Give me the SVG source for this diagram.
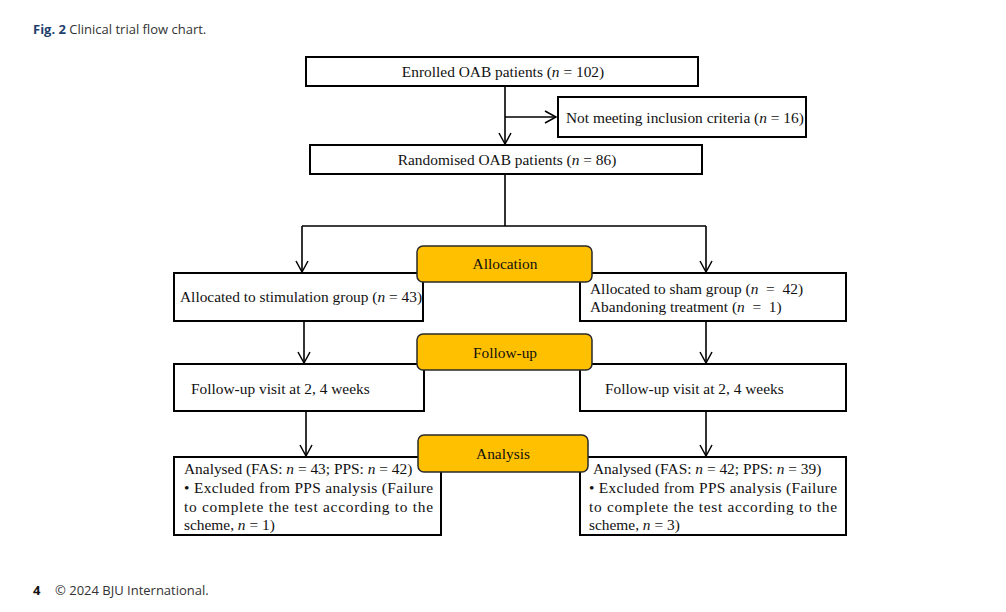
<svg xmlns="http://www.w3.org/2000/svg" width="1006" height="612" viewBox="0 0 1006 612">
<defs>
<marker id="arr" markerWidth="14" markerHeight="14" refX="12" refY="7" orient="auto" markerUnits="userSpaceOnUse">
<path d="M1,1 L12,7 L1,13" fill="none" stroke="#000" stroke-width="1.5"/>
</marker>
<style>
.box{fill:#fff;stroke:#000;stroke-width:2}
.phase{fill:#FFC000;stroke:#2a2a2a;stroke-width:1.5}
.t{font-family:"Liberation Serif","Times New Roman",serif;font-size:15.4px;fill:#111}
.c{text-anchor:middle}
.conn{fill:none;stroke:#000;stroke-width:1.6}
.cap{font-family:"Open Sans","Lato",sans-serif;font-size:13px;fill:#333}
</style>
</defs>
<rect width="1006" height="612" fill="#fff"/>
<text class="cap" x="33" y="34"><tspan font-weight="bold" fill="#1f3f6e">Fig. 2</tspan> Clinical trial flow chart.</text>
<text class="cap" x="33" y="595"><tspan font-weight="bold" fill="#111">4</tspan><tspan x="55">© 2024 BJU International.</tspan></text>

<g id="connectors">
<path class="conn" d="M505,86 V144" marker-end="url(#arr)"/>
<path class="conn" d="M505,117 H556" marker-end="url(#arr)"/>
<path class="conn" d="M505,174 V226 M302,226 H706"/>
<path class="conn" d="M302,226 V272" marker-end="url(#arr)"/>
<path class="conn" d="M706,226 V272" marker-end="url(#arr)"/>
<path class="conn" d="M304,321 V363" marker-end="url(#arr)"/>
<path class="conn" d="M706,321 V363" marker-end="url(#arr)"/>
<path class="conn" d="M306,411 V456" marker-end="url(#arr)"/>
<path class="conn" d="M706,411 V456" marker-end="url(#arr)"/>
</g>

<g id="enrolled">
<rect class="box" x="306" y="57" width="392" height="29"/>
<text class="t c" x="503" y="77">Enrolled OAB patients (<tspan font-style="italic">n</tspan> = 102)</text>
</g>
<g id="excluded">
<rect class="box" x="558" y="97" width="248" height="40"/>
<text class="t" x="566" y="123">Not meeting inclusion criteria (<tspan font-style="italic">n</tspan> = 16)</text>
</g>
<g id="randomised">
<rect class="box" x="310" y="145" width="392" height="29"/>
<text class="t c" x="507" y="165">Randomised OAB patients (<tspan font-style="italic">n</tspan> = 86)</text>
</g>

<g id="stim">
<rect class="box" x="174" y="273" width="249" height="48"/>
<text class="t" x="180" y="302">Allocated to stimulation group (<tspan font-style="italic">n</tspan> = 43)</text>
</g>
<g id="sham">
<rect class="box" x="580" y="273" width="266" height="48"/>
<text class="t" x="590" y="294">Allocated to sham group (<tspan font-style="italic">n</tspan>&#160; = &#160;42)</text>
<text class="t" x="590" y="312">Abandoning treatment (<tspan font-style="italic">n</tspan>&#160; = &#160;1)</text>
</g>
<g id="allocation">
<rect class="phase" x="417" y="246" width="175" height="36" rx="6"/>
<text class="t c" x="505" y="269">Allocation</text>
</g>

<g id="fu-left">
<rect class="box" x="174" y="364" width="250" height="47"/>
<text class="t" x="191" y="394">Follow-up visit at 2, 4 weeks</text>
</g>
<g id="fu-right">
<rect class="box" x="580" y="364" width="266" height="47"/>
<text class="t" x="605" y="394">Follow-up visit at 2, 4 weeks</text>
</g>
<g id="followup">
<rect class="phase" x="417" y="334" width="175" height="36" rx="6"/>
<text class="t c" x="505" y="358">Follow-up</text>
</g>

<g id="an-left">
<rect class="box" x="174" y="457" width="267" height="78"/>
<text class="t" x="184" y="474">Analysed (FAS: <tspan font-style="italic">n</tspan> = 43; PPS: <tspan font-style="italic">n</tspan> = 42)</text>
<text class="t" x="184" y="493" textLength="249" lengthAdjust="spacing">• Excluded from PPS analysis (Failure</text>
<text class="t" x="184" y="512" textLength="249" lengthAdjust="spacing">to complete the test according to the</text>
<text class="t" x="184" y="530">scheme, <tspan font-style="italic">n</tspan> = 1)</text>
</g>
<g id="an-right">
<rect class="box" x="580" y="457" width="266" height="78"/>
<text class="t" x="593" y="474">Analysed (FAS: <tspan font-style="italic">n</tspan> = 42; PPS: <tspan font-style="italic">n</tspan> = 39)</text>
<text class="t" x="589" y="493" textLength="248" lengthAdjust="spacing">• Excluded from PPS analysis (Failure</text>
<text class="t" x="589" y="512" textLength="248" lengthAdjust="spacing">to complete the test according to the</text>
<text class="t" x="589" y="530">scheme, <tspan font-style="italic">n</tspan> = 3)</text>
</g>
<g id="analysis">
<rect class="phase" x="418" y="435" width="170" height="37" rx="6"/>
<text class="t c" x="503" y="459">Analysis</text>
</g>
</svg>
